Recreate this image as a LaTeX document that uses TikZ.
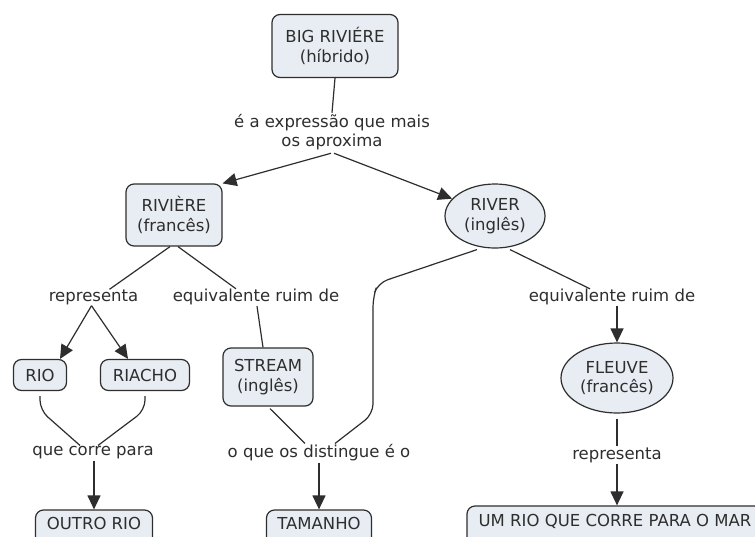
\documentclass[tikz,border=0pt]{standalone}
\usepackage{fontspec}
\setmainfont{DejaVu Sans}
\usetikzlibrary{arrows.meta,shapes.geometric}
\definecolor{boxfill}{HTML}{E8EDF3}
\definecolor{ink}{HTML}{2E2E2E}
\begin{document}
\begin{tikzpicture}[x=1pt,y=-1pt,
  every node/.style={font=\fontsize{16.5}{19.5}\selectfont, text=ink, align=center},
  concept/.style={draw=ink, fill=boxfill, line width=1.2pt, rounded corners=8pt, inner sep=0pt},
  oval/.style={ellipse, draw=ink, fill=boxfill, line width=1.2pt, inner sep=0pt},
  phrase/.style={inner sep=1pt},
  link/.style={draw=ink, line width=1.2pt},
  arrowlink/.style={link, -{Triangle[length=14pt,width=13pt]}}
]
\useasboundingbox (0,0) rectangle (755,536);
\clip (0,0) rectangle (755,536);
\fill[white] (0,0) rectangle (755,536);

% concepts
\node[concept, minimum width=126pt, minimum height=63pt] (big) at (335,46) {BIG RIVIÉRE\\(híbrido)};
\node[concept, minimum width=96pt, minimum height=62pt] (riv) at (174,215) {RIVIÈRE\\(francês)};
\node[oval, minimum width=100pt, minimum height=64pt] (river) at (495,216) {RIVER\\(inglês)};
\node[concept, minimum width=53pt, minimum height=31pt] (rio) at (40,375) {RIO};
\node[concept, minimum width=89pt, minimum height=31pt] (riacho) at (145,375) {RIACHO};
\node[concept, minimum width=90pt, minimum height=58pt] (stream) at (268,377) {STREAM\\(inglês)};
\node[oval, minimum width=112pt, minimum height=70pt] (fleuve) at (617,378) {FLEUVE\\(francês)};
\node[concept, minimum width=117pt, minimum height=40pt, text depth=14pt] (outro) at (94,530) {OUTRO RIO};
\node[concept, minimum width=105pt, minimum height=40pt, text depth=14pt] (tam) at (319,530) {TAMANHO};
\node[concept, minimum width=296pt, minimum height=40pt, text depth=12pt] (mar) at (615,526) {UM RIO QUE CORRE PARA O MAR};

% linking phrases
\node[phrase] (aprox) at (332,132) {é a expressão que mais\\os aproxima};
\node[phrase] (rep1) at (93.5,297) {representa};
\node[phrase] (eq1) at (256,297) {equivalente ruim de};
\node[phrase] (eq2) at (612,297) {equivalente ruim de};
\node[phrase] (corre) at (93,453) {que corre para};
\node[phrase] (dist) at (319,453) {o que os distingue é o};
\node[phrase] (rep2) at (617,455) {representa};

% BIG RIVIÉRE
\draw[link] (big.south) -- (aprox.north);
\path (aprox.south) ++(-1,2) coordinate (apl) ++(3,0) coordinate (apr);
\draw[arrowlink] (apl) -- (riv.north east);
\draw[arrowlink] (apr) -- (river.158);

% RIVIÈRE
\draw[link] ([xshift=-4pt]riv.south) -- ([xshift=16pt,yshift=-1pt]rep1.north);
\draw[link] ([xshift=4pt]riv.south) -- ([xshift=-20pt,yshift=-1pt]eq1.north);
\draw[arrowlink] ([xshift=-2pt]rep1.south) -- ([xshift=20pt]rio.north);
\draw[arrowlink] ([xshift=-2pt]rep1.south) -- ([xshift=-17pt]riacho.north);
\draw[link] ([xshift=1pt]eq1.south) -- ([xshift=-5pt]stream.north);

% RIO / RIACHO
\draw[link, rounded corners=10pt] ([yshift=-5pt]rio.south) -- ++(0,14) -- ([xshift=-13pt]corre.north);
\draw[link, rounded corners=10pt] ([yshift=-5pt]riacho.south) -- ++(0,14) -- ([xshift=5pt]corre.north);
\draw[arrowlink] (corre.south -| outro.north) -- (outro.north);

% STREAM / RIVER
\draw[link] ([xshift=2pt,yshift=-2pt]stream.south) -- ([xshift=-14pt]dist.north);
\draw[link, rounded corners=10pt] ([xshift=-18pt,yshift=-1pt]river.south) -- (378,283) -- (373,297) -- (373,414) -- ([xshift=16pt]dist.north);
\draw[arrowlink] (dist.south -| tam.north) -- (tam.north);

% RIVER / FLEUVE
\draw[link] ([xshift=15pt,yshift=-1pt]river.south) -- ([xshift=-22pt,yshift=-1pt]eq2.north);
\draw[arrowlink] (eq2.south -| fleuve.north) -- (fleuve.north);
\draw[link] ([yshift=-5pt]fleuve.south) -- (rep2.north);
\draw[arrowlink] (rep2.south) -- (rep2.south |- mar.north);
\end{tikzpicture}
\end{document}
